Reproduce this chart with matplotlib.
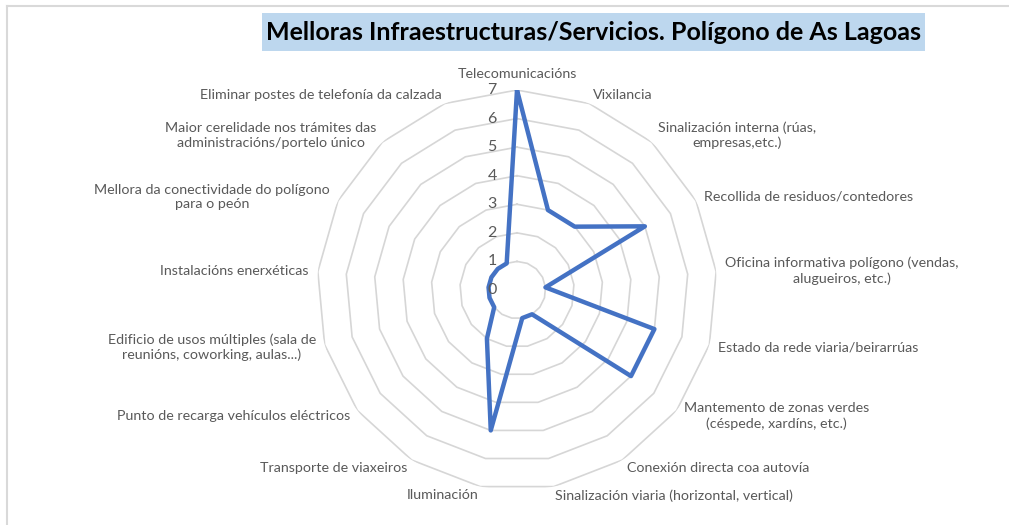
import numpy as np
import matplotlib
matplotlib.use("Agg")
import matplotlib.pyplot as plt
from matplotlib.patches import Rectangle
from matplotlib.lines import Line2D
from matplotlib.transforms import offset_copy

categories = [
    "Telecomunicacións",
    "Vixilancia",
    "Sinalización interna (rúas,\nempresas,etc.)",
    "Recollida de residuos/contedores",
    "Oficina informativa polígono (vendas,\nalugueiros, etc.)",
    "Estado da rede viaria/beirarrúas",
    "Mantemento de zonas verdes\n(céspede, xardíns, etc.)",
    "Conexión directa coa autovía",
    "Sinalización viaria (horizontal, vertical)",
    "Iluminación",
    "Transporte de viaxeiros",
    "Punto de recarga vehículos eléctricos",
    "Edificio de usos múltiples (sala de\nreunións, coworking, aulas...)",
    "Instalacións enerxéticas",
    "Mellora da conectividade do polígono\npara o peón",
    "Maior cerelidade nos trámites das\nadministracións/portelo único",
    "Eliminar postes de telefonía da calzada",
]
values = [7, 3, 3, 5, 1, 5, 5, 1, 1, 5, 2, 1, 1, 1, 1, 1, 1]
ring_levels = [0, 1, 2, 3, 4, 5, 6, 7]
title = "Melloras Infraestructuras/Servicios. Polígono de As Lagoas"

FONT = "Lato"
W, H = 1009, 525
fig = plt.figure(figsize=(W / 100, H / 100), dpi=100)

# outer chart frame (only top and left edges visible)
fig.lines.append(Line2D([7 / W, 1.0], [1 - 6 / H, 1 - 6 / H],
                        transform=fig.transFigure, color="#D9D9D9", lw=1.5))
fig.lines.append(Line2D([7 / W, 7 / W], [0.0, 1 - 6 / H],
                        transform=fig.transFigure, color="#D9D9D9", lw=1.5))

cx, cy, R = 517, 290, 200
ax = fig.add_axes([(cx - R) / W, (H - cy - R) / H, 2 * R / W, 2 * R / H],
                  projection="polar")
ax.set_theta_zero_location("N")
ax.set_theta_direction(-1)
ax.set_ylim(0, 7)
ax.grid(False)
ax.spines["polar"].set_visible(False)
ax.set_xticks([])
ax.set_yticks([])
ax.patch.set_alpha(0)

n = len(categories)
theta = np.linspace(0, 2 * np.pi, n, endpoint=False)
theta_c = np.concatenate([theta, theta[:1]])

for k in ring_levels[1:]:
    ax.plot(theta_c, [k] * (n + 1), color="#D6D6D6", lw=1.2, zorder=1)

vals_c = values + values[:1]
ax.plot(theta_c, vals_c, color="#4472C4", lw=3.2, zorder=3,
        solid_joinstyle="round")

# radial value labels
tr = offset_copy(ax.transData, fig=fig, x=-25, y=0, units="dots")
for k in ring_levels:
    ax.text(0, k, str(k), transform=tr, ha="center", va="center",
            fontsize=11.5, color="#595959", family=FONT, zorder=4)

# category labels
r_lab = 7 * 209 / 200
for t, lab in zip(theta, categories):
    s, c = np.sin(t), np.cos(t)
    if abs(s) < 0.05:
        ha = "center"
        va = "bottom" if c > 0 else "top"
        r = 7 * 210 / 200
    else:
        ha = "left" if s > 0 else "right"
        va = "center"
        r = r_lab
    ax.text(t, r, lab, ha=ha, va=va, multialignment="center",
            fontsize=10.3, color="#595959", family=FONT, linespacing=1.25,
            clip_on=False)

# title with light blue box
fig.patches.append(Rectangle((262 / W, 1 - 51 / H), (925 - 262) / W, 38 / H,
                             transform=fig.transFigure, facecolor="#BDD7EE",
                             edgecolor="none"))
fig.text(593 / W, 1 - 32 / H, title, ha="center", va="center",
         fontsize=18, fontweight="bold", family=FONT, color="#000000")

fig.savefig("out.png", dpi=100)
